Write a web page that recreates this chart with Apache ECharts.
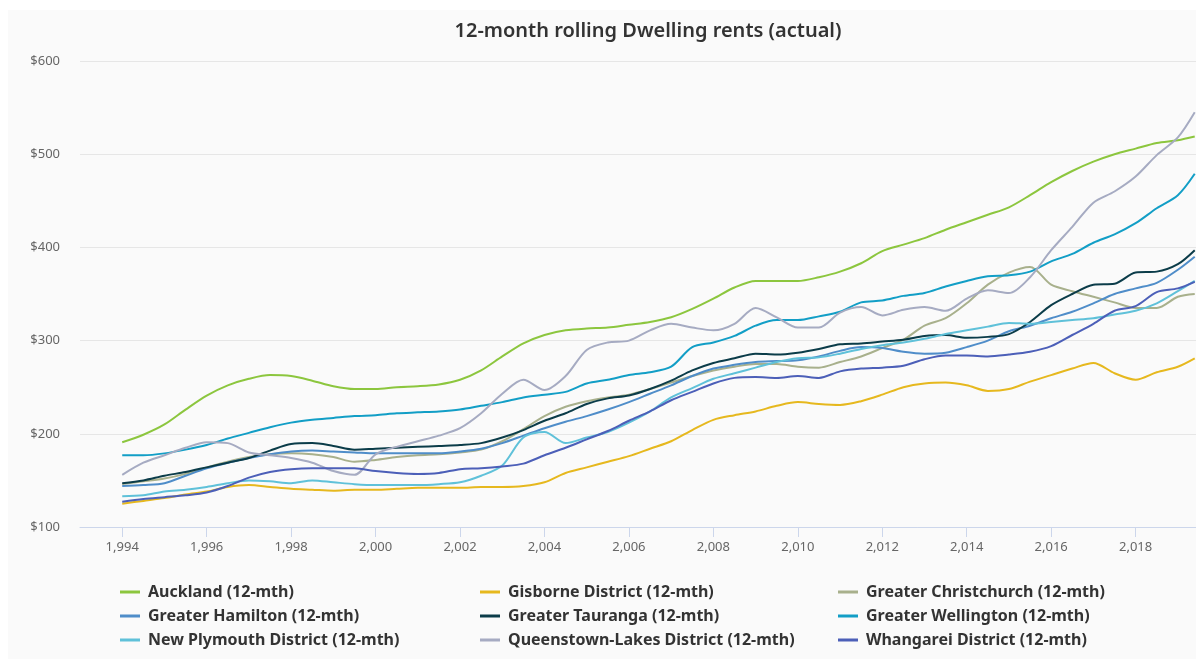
<!DOCTYPE html>
<html>
<head>
<meta charset="utf-8">
<script src="https://cdn.jsdelivr.net/npm/echarts@6/dist/echarts.min.js"></script>
<style>
  body { margin: 0; background: #ffffff; }
  #chart { position: absolute; left: 8px; top: 10px; width: 1188px; height: 649px; background: #fafafa; }
</style>
</head>
<body>
<div id="chart"></div>
<script>
// time points (half years, last one is the latest quarter)
var periods = [1994, 1994.5, 1995, 1995.5, 1996, 1996.5, 1997, 1997.5, 1998, 1998.5,
  1999, 1999.5, 2000, 2000.5, 2001, 2001.5, 2002, 2002.5, 2003, 2003.5,
  2004, 2004.5, 2005, 2005.5, 2006, 2006.5, 2007, 2007.5, 2008, 2008.5,
  2009, 2009.5, 2010, 2010.5, 2011, 2011.5, 2012, 2012.5, 2013, 2013.5,
  2014, 2014.5, 2015, 2015.5, 2016, 2016.5, 2017, 2017.5, 2018, 2018.5,
  2019, 2019.4];

var xTicks = [1994, 1996, 1998, 2000, 2002, 2004, 2006, 2008, 2010, 2012, 2014, 2016, 2018];

var auckland = [191,199,210,226,241,252,259,263,262,257, 251,248,248,250,251,253,258,268,283,297,
  306,311,313,314,317,320,325,334,345,357, 364,364,364,368,374,383,396,403,410,419,
  427,435,443,456,470,482,492,500,506,512, 515,519];
var gisborne = [125,128,131,135,138,143,145,143,141,140, 139,140,140,141,142,142,142,143,143,144,
  148,158,164,170,176,184,192,204,215,220, 224,230,234,232,231,235,242,250,254,255,
  252,246,248,256,263,270,276,265,258,266, 272,281];
var christchurch = [146,149,152,157,164,170,175,178,179,178, 175,170,172,175,177,178,180,183,192,205,
  219,229,235,239,242,248,255,262,268,272, 275,275,272,271,277,283,292,301,316,324,
  340,360,373,379,360,353,347,341,335,335, 347,350];
var hamilton = [144,145,147,155,163,169,174,178,181,182, 181,180,179,179,179,179,181,184,190,198,
  206,213,219,226,234,243,252,262,270,274, 277,278,279,283,289,293,292,288,286,287,
  293,300,310,316,324,331,340,350,356,362, 376,390];
var tauranga = [147,150,155,159,164,169,174,182,189,190, 187,183,184,185,186,187,188,190,196,204,
  214,222,232,238,241,248,257,268,276,281, 286,285,287,291,296,297,299,301,305,306,
  303,304,307,320,338,350,360,361,373,374, 382,397];
var wellington = [177,177,179,183,188,195,201,207,212,215, 217,219,220,222,223,224,226,230,234,239,
  242,245,254,258,263,266,272,293,298,305, 316,322,322,326,331,341,343,348,351,358,
  364,369,370,374,385,393,405,414,426,442, 456,479];
var newPlymouth = [133,134,138,140,143,147,150,149,147,150, 148,146,145,145,145,146,148,155,166,196,
  202,190,196,202,212,224,239,249,259,265, 271,277,281,282,286,291,295,298,302,307,
  311,315,319,318,320,322,324,328,332,340, 353,364];
var queenstown = [156,169,177,185,191,190,180,177,174,169, 160,156,178,186,192,198,206,222,243,258,
  247,262,290,298,300,311,318,314,311,318, 335,325,314,314,330,336,327,333,336,332,
  345,354,351,368,397,422,448,460,476,499, 518,545];
var whangarei = [127,130,132,134,137,144,153,159,162,163, 163,163,160,158,157,158,162,163,165,168,
  177,185,194,203,214,224,236,245,254,260, 261,260,262,260,267,270,271,273,280,284,
  284,283,285,288,294,306,318,332,337,352, 356,363];

var seriesNames = ['Auckland (12-mth)', 'Gisborne District (12-mth)', 'Greater Christchurch (12-mth)',
  'Greater Hamilton (12-mth)', 'Greater Tauranga (12-mth)', 'Greater Wellington (12-mth)',
  'New Plymouth District (12-mth)', 'Queenstown-Lakes District (12-mth)', 'Whangarei District (12-mth)'];
var seriesValues = [auckland, gisborne, christchurch, hamilton, tauranga, wellington, newPlymouth, queenstown, whangarei];
var colors = ['#8cc63e', '#e6b81e', '#a8b08c', '#4f8dc9', '#0b3c49', '#129ec6', '#5fc1d9', '#a6abc2', '#4c5fb8'];

var font = '"Noto Sans", "Open Sans", sans-serif';

var chart = echarts.init(document.getElementById('chart'));

var series = [];
for (var i = 0; i < seriesNames.length; i++) {
  var vals = seriesValues[i];
  series.push({
    name: seriesNames[i],
    type: 'line',
    showSymbol: false,
    smooth: 0.3,
    lineStyle: { width: 2, color: colors[i] },
    itemStyle: { color: colors[i] },
    data: periods.map(function (p, k) { return [p, vals[k]]; })
  });
}

// one vertical legend per column
function legendCol(left, names) {
  return {
    orient: 'vertical',
    left: left,
    top: 574,
    padding: 0,
    icon: 'rect',
    itemWidth: 20,
    itemHeight: 3,
    itemGap: 8,
    data: names,
    textStyle: { color: '#333', fontSize: 16, fontWeight: 'bold', fontFamily: font, lineHeight: 16, padding: [0, 0, 0, 3] }
  };
}

var option = {
  color: colors,
  animation: false,
  title: {
    text: '12-month rolling Dwelling rents (actual)',
    left: 635,
    textAlign: 'center',
    top: 6,
    textStyle: { color: '#333', fontSize: 20, fontWeight: 600, fontFamily: font }
  },
  legend: [
    legendCol(112, [seriesNames[0], seriesNames[3], seriesNames[6]]),
    legendCol(472, [seriesNames[1], seriesNames[4], seriesNames[7]]),
    legendCol(830, [seriesNames[2], seriesNames[5], seriesNames[8]])
  ],
  grid: { left: 72, right: 0, top: 51, bottom: 132 },
  xAxis: {
    type: 'value',
    min: 1993,
    max: 2019.43,
    axisLine: { lineStyle: { color: '#ccd6eb' } },
    axisTick: { show: true, customValues: xTicks, length: 10, lineStyle: { color: '#ccd6eb' } },
    axisLabel: { customValues: xTicks, color: '#666', fontSize: 13, margin: 14, fontFamily: font },
    splitLine: { show: false }
  },
  yAxis: {
    type: 'value',
    min: 100,
    max: 600,
    interval: 100,
    axisLine: { show: false },
    axisTick: { show: false },
    axisLabel: { formatter: '${value}', color: '#666', fontSize: 13, margin: 20, fontFamily: font },
    splitLine: { lineStyle: { color: '#e6e6e6' } }
  },
  series: series
};
chart.setOption(option);
</script>
</body>
</html>
